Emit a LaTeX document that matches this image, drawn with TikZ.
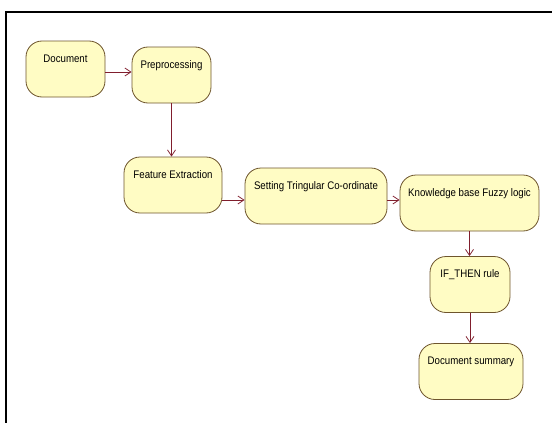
\documentclass[tikz,border=0pt]{standalone}
\usepackage{fontspec}
\setmainfont{Liberation Sans}[FakeStretch=0.88]
\usepackage{xcolor}
\usetikzlibrary{arrows.meta}

\definecolor{boxfill}{RGB}{255,252,196}
\definecolor{boxline}{RGB}{110,85,45}
\definecolor{flowline}{RGB}{128,30,45}

\begin{document}
\begin{tikzpicture}[x=1pt, y=-1pt,
    activity/.style={draw=boxline, fill=boxfill, line width=0.8pt,
      rounded corners=16pt, inner xsep=0pt, inner ysep=0pt,
      text height=21pt, text depth=35pt,
      font=\fontsize{11}{12}\selectfont},
    flow/.style={draw=flowline, line width=0.8pt,
      -{Straight Barb[length=6pt, width=8pt]}}]
  \useasboundingbox (0,0) rectangle (552,423);
  % Draw frame
  \draw[line width=2pt] (6,423) -- (6,12) -- (552,12);

  % Draw activities
  \node[activity, minimum width=79pt] (doc) at (65.5,69) {Document};
  \node[activity, minimum width=79pt] (pre) at (171.5,75) {Preprocessing};
  \node[activity, minimum width=98pt] (feat) at (173,185) {Feature Extraction};
  \node[activity, minimum width=142pt] (tri) at (316,196) {Setting Tringular Co-ordinate};
  \node[activity, minimum width=139pt] (kb) at (469.5,203) {Knowledge base Fuzzy logic};
  \node[activity, minimum width=80pt] (rule) at (470,284.5) {IF\_THEN rule};
  \node[activity, minimum width=104pt] (summ) at (471,371.5) {Document summary};

  % Draw flow
  \draw[flow] ([yshift=-3pt]doc.east) -- ([yshift=-3pt]doc.east -| pre.west);
  \draw[flow] (pre.south) -- (pre.south |- feat.north);
  \draw[flow] ([yshift=-15pt]feat.east) -- ([yshift=-15pt]feat.east -| tri.west);
  \draw[flow] ([yshift=-4pt]tri.east) -- ([yshift=-4pt]tri.east -| kb.west);
  \draw[flow] (kb.south) -- (kb.south |- rule.north);
  \draw[flow] (rule.south) -- (rule.south |- summ.north);
\end{tikzpicture}
\end{document}
